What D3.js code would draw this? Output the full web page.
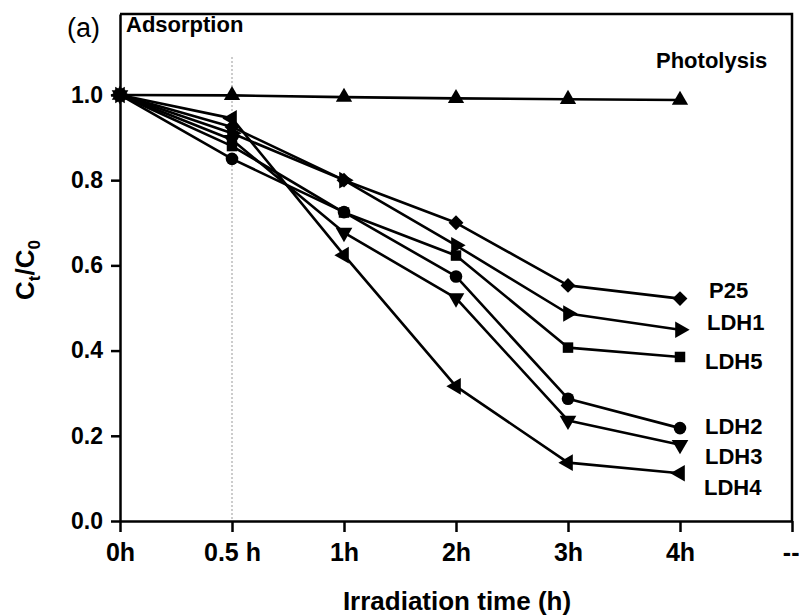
<!DOCTYPE html>
<html>
<head>
<meta charset="utf-8">
<script src="https://cdn.jsdelivr.net/npm/d3@7"></script>
<style>
  body { margin: 0; background: #fff; }
  svg { display: block; }
  text { font-family: Arial, "Liberation Sans", sans-serif; fill: #000; }
</style>
</head>
<body>
<svg id="chart" width="799" height="616"></svg>
<script>
// Categorical time steps along the x axis (the last slot is an open-ended placeholder)
const timeLabels = ["0h", "0.5 h", "1h", "2h", "3h", "4h", "--"];
const yTickValues = [0.0, 0.2, 0.4, 0.6, 0.8, 1.0];

// Relative concentration C_t/C_0 at 0h, 0.5h, 1h, 2h, 3h, 4h
const photolysis = [1.0, 0.999, 0.995, 0.992, 0.990, 0.988];
const p25  = [1.0, 0.925, 0.800, 0.700, 0.553, 0.522];
const ldh1 = [1.0, 0.910, 0.800, 0.647, 0.487, 0.449];
const ldh5 = [1.0, 0.880, 0.724, 0.623, 0.407, 0.385];
const ldh2 = [1.0, 0.850, 0.725, 0.574, 0.287, 0.218];
const ldh3 = [1.0, 0.895, 0.677, 0.523, 0.236, 0.179];
const ldh4 = [1.0, 0.945, 0.624, 0.316, 0.137, 0.112];

const seriesNames = ["Photolysis", "P25", "LDH1", "LDH5", "LDH2", "LDH3", "LDH4"];
const seriesValues = [photolysis, p25, ldh1, ldh5, ldh2, ldh3, ldh4];

// Marker shape per series: [d3 symbol, rotation in degrees, size]
const markerStyle = {
  "Photolysis": [d3.symbolTriangle, 0, 115],
  "P25":  [d3.symbolSquare, 45, 110],
  "LDH1": [d3.symbolTriangle, 90, 120],
  "LDH5": [d3.symbolSquare, 0, 110],
  "LDH2": [d3.symbolCircle, 0, 125],
  "LDH3": [d3.symbolTriangle, 180, 120],
  "LDH4": [d3.symbolTriangle, -90, 120]
};
// End-of-line label placement: x position and vertical nudge from the last point
const labelNudge = {
  "P25": [709, -8], "LDH1": [707, -7], "LDH5": [705, 4],
  "LDH2": [705, -2], "LDH3": [705, 12], "LDH4": [704, 14]
};

const svg = d3.select("#chart");
const plotLeft = 120, plotRight = 792, plotTop = 14, plotBottom = 521;

const x = d3.scaleLinear().domain([0, timeLabels.length - 1]).range([plotLeft, plotRight]);
const y = d3.scaleLinear().domain([0, 1.19]).range([plotBottom, plotTop]);

// Dotted marker separating the dark adsorption step
svg.append("line")
  .attr("x1", x(1)).attr("x2", x(1))
  .attr("y1", 57).attr("y2", plotBottom)
  .attr("stroke", "#999").attr("stroke-width", 1)
  .attr("stroke-dasharray", "2,2");

// Frame: top and right edges
svg.append("path")
  .attr("d", `M${plotLeft},${plotTop}H${plotRight}V${plotBottom}`)
  .attr("fill", "none").attr("stroke", "#000").attr("stroke-width", 2.5);

// Y axis
const yAxis = svg.append("g")
  .attr("transform", `translate(${plotLeft},0)`)
  .call(d3.axisLeft(y).tickValues(yTickValues).tickFormat(d3.format(".1f"))
    .tickSize(9).tickSizeOuter(0).tickPadding(8));
yAxis.selectAll("text").style("font-size", "23px").style("font-weight", "bold");

// X axis
const xAxis = svg.append("g")
  .attr("transform", `translate(0,${plotBottom})`)
  .call(d3.axisBottom(x).tickValues(d3.range(timeLabels.length))
    .tickFormat(i => timeLabels[i]).tickSize(11).tickSizeOuter(0).tickPadding(11));
xAxis.selectAll("text").style("font-size", "25px").style("font-weight", "bold");
// The trailing placeholder label sits against the right edge
xAxis.selectAll(".tick text").filter(i => i === timeLabels.length - 1)
  .attr("text-anchor", "end").attr("x", 799 - plotRight);

[yAxis, xAxis].forEach(g => {
  g.select(".domain").attr("stroke-width", 2.5);
  g.selectAll(".tick line").attr("stroke-width", 2.5);
});

// Series lines and markers
const line = d3.line().x((d, i) => x(i)).y(d => y(d));
const plot = svg.append("g");
seriesNames.forEach((name, k) => {
  const vals = seriesValues[k];
  plot.append("path").datum(vals)
    .attr("d", line)
    .attr("fill", "none").attr("stroke", "#000").attr("stroke-width", 2.6)
    .attr("stroke-linejoin", "round");
  const [type, rot, size] = markerStyle[name];
  plot.selectAll(null).data(vals).join("path")
    .attr("d", d3.symbol().type(type).size(size))
    .attr("transform", (d, i) => `translate(${x(i)},${y(d)}) rotate(${rot})`)
    .attr("fill", "#000");
});

// Series labels at the end of the lines
Object.keys(labelNudge).forEach(name => {
  const vals = seriesValues[seriesNames.indexOf(name)];
  const [lx, dy] = labelNudge[name];
  svg.append("text")
    .attr("x", lx).attr("y", y(vals[vals.length - 1]) + dy)
    .attr("dy", "0.35em")
    .style("font-size", "22px").style("font-weight", "bold")
    .text(name);
});

svg.append("text").attr("x", 656).attr("y", 68)
  .style("font-size", "22px").style("font-weight", "bold").text("Photolysis");

svg.append("text").attr("x", 126).attr("y", 32)
  .style("font-size", "22px").style("font-weight", "bold").text("Adsorption");

svg.append("text").attr("x", 67).attr("y", 37)
  .style("font-size", "27px").text("(a)");

// Axis titles
svg.append("text")
  .attr("x", 457).attr("y", 610)
  .attr("text-anchor", "middle")
  .style("font-size", "26px").style("font-weight", "bold")
  .text("Irradiation time (h)");

const yTitle = svg.append("text")
  .attr("transform", "translate(34,270) rotate(-90)")
  .attr("text-anchor", "middle")
  .style("font-size", "26px").style("font-weight", "bold");
yTitle.append("tspan").text("C");
yTitle.append("tspan").attr("dy", 6).style("font-size", "17px").text("t");
yTitle.append("tspan").attr("dy", -6).text("/C");
yTitle.append("tspan").attr("dy", 6).style("font-size", "17px").text("0");
</script>
</body>
</html>
